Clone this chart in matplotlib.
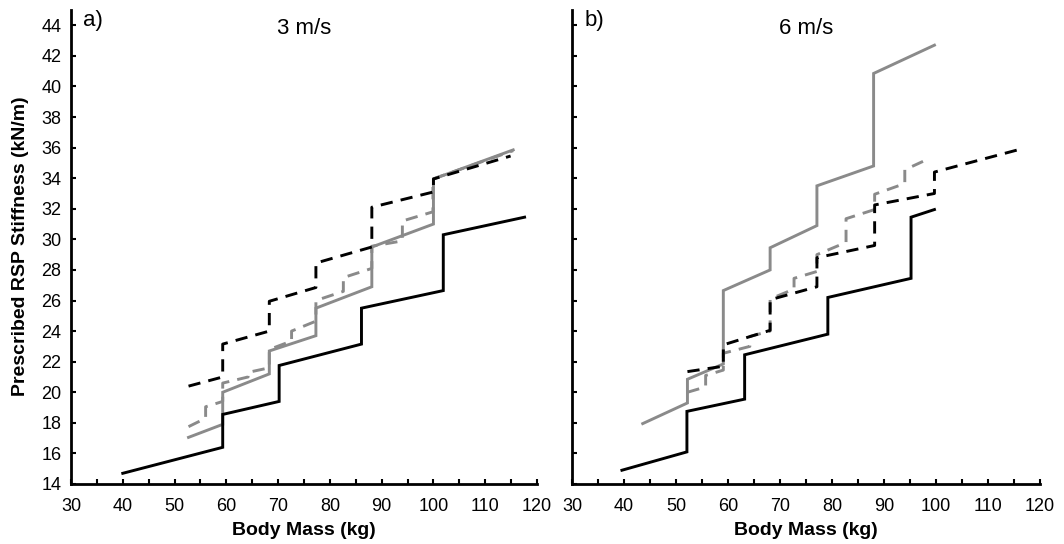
import matplotlib
matplotlib.use("Agg")
import matplotlib.pyplot as plt
from matplotlib.ticker import MultipleLocator

plt.rcParams['font.family'] = ['Liberation Sans', 'DejaVu Sans']

# step curves, vertex lists (body mass kg, stiffness kN/m)
# 3 m/s panel
l_black_x = [40, 59.3, 59.3, 70.2, 70.2, 86.1, 86.1, 101.9, 101.9, 117.6]
l_black_y = [14.7, 16.4, 18.55, 19.4, 21.75, 23.15, 25.5, 26.65, 30.3, 31.45]

l_gray_x = [52.7, 59.3, 59.3, 68.3, 68.3, 77.3, 77.3, 88.1, 88.1, 100.0, 100.0, 115.4]
l_gray_y = [17.05, 17.9, 20.0, 21.2, 22.7, 23.7, 25.5, 26.9, 29.5, 31.0, 33.95, 35.85]

l_bdash_x = [52.7, 59.3, 59.3, 68.3, 68.3, 77.3, 77.3, 88.1, 88.1, 100.0, 100.0, 114.9]
l_bdash_y = [20.4, 21.0, 23.15, 24.0, 25.95, 26.85, 28.45, 29.5, 32.1, 33.1, 33.95, 35.45]

l_gdash_x = [52.7, 56.0, 56.0, 59.3, 59.3, 64.2, 64.2, 68.3, 68.3, 72.6, 72.6,
             77.3, 77.3, 82.6, 82.6, 88.1, 88.1, 94.0, 94.0, 99.9, 99.9, 115.4]
l_gdash_y = [17.75, 18.3, 19.05, 19.4, 20.6, 21.0, 21.3, 21.6, 22.8, 23.35, 24.0,
             24.65, 26.0, 26.6, 27.5, 28.1, 29.55, 29.9, 31.2, 31.8, 33.95, 35.8]

# 6 m/s panel
r_black_x = [39.6, 52.1, 52.1, 63.2, 63.2, 79.2, 79.2, 95.2, 95.2, 99.7]
r_black_y = [14.9, 16.1, 18.75, 19.55, 22.45, 23.8, 26.2, 27.45, 31.45, 31.95]

r_gray_x = [43.6, 52.2, 52.2, 59.1, 59.1, 68.1, 68.1, 77.1, 77.1, 88.0, 88.0, 99.7]
r_gray_y = [17.95, 19.3, 20.85, 21.85, 26.65, 28.0, 29.45, 30.9, 33.5, 34.8, 40.85, 42.7]

r_bdash_x = [52.2, 59.1, 59.1, 68.1, 68.1, 77.1, 77.1, 88.2, 88.2, 99.7, 99.7, 116.8]
r_bdash_y = [21.35, 21.7, 23.1, 24.05, 26.05, 26.9, 28.8, 29.6, 32.25, 33.0, 34.4, 35.95]

r_gdash_x = [52.2, 55.7, 55.7, 59.1, 59.1, 64.2, 64.2, 68.1, 68.1, 72.7,
             72.7, 77.1, 77.1, 82.7, 82.7, 88.2, 88.2, 94.0, 94.0, 97.5]
r_gdash_y = [20.0, 20.35, 21.1, 21.45, 22.55, 23.0, 23.65, 24.0, 26.1, 26.75,
             27.45, 27.9, 29.0, 29.8, 31.35, 31.95, 32.95, 33.65, 34.55, 35.1]

speeds = ["3 m/s", "6 m/s"]
panel_tags = ["a)", "b)"]

GRAY = "#8a8a8a"
LW = 2.1
DASH = (4.2, 2.8)

fig = plt.figure(figsize=(10.64, 5.44), dpi=100)
ax_l = fig.add_axes([71 / 1064, 1 - 484 / 544, 466 / 1064, 474 / 544])
ax_r = fig.add_axes([572 / 1064, 1 - 484 / 544, 468 / 1064, 474 / 544])

panels = [
    (ax_l, (l_black_x, l_black_y), (l_gray_x, l_gray_y), (l_bdash_x, l_bdash_y), (l_gdash_x, l_gdash_y)),
    (ax_r, (r_black_x, r_black_y), (r_gray_x, r_gray_y), (r_bdash_x, r_bdash_y), (r_gdash_x, r_gdash_y)),
]

for i, (ax, blk, gry, bd, gd) in enumerate(panels):
    ax.plot(*gry, color=GRAY, lw=LW, solid_joinstyle='miter')
    ax.plot(*blk, color="black", lw=LW, solid_joinstyle='miter')
    ax.plot(*gd, color=GRAY, lw=LW, dashes=DASH)
    ax.plot(*bd, color="black", lw=LW, dashes=DASH)

    ax.set_xlim(30, 120)
    ax.set_ylim(14, 45)
    ax.xaxis.set_major_locator(MultipleLocator(10))
    ax.xaxis.set_minor_locator(MultipleLocator(5))
    ax.set_yticks(range(14, 45, 2))

    for side in ("top", "right"):
        ax.spines[side].set_visible(False)
    for side in ("left", "bottom"):
        ax.spines[side].set_linewidth(2.0)

    ax.tick_params(axis="both", which="both", direction="in", length=3.5, width=1.5)
    ax.tick_params(axis="x", which="major", labelsize=13, pad=10)
    ax.tick_params(axis="y", which="major", labelsize=13, pad=7)

    ax.set_xlabel("Body Mass (kg)", fontsize=14, fontweight="bold", labelpad=5)
    ax.text(0.5, 0.962, speeds[i], transform=ax.transAxes, fontsize=16,
            ha="center", va="center")
    ax.text(0.026, 0.978, panel_tags[i], transform=ax.transAxes, fontsize=16,
            ha="left", va="center")

ax_r.tick_params(axis="y", labelleft=False)

fig.text(21 / 1064, 1 - 246 / 544, "Prescribed RSP Stiffness (kN/m)", rotation=90,
         fontsize=14, fontweight="bold", ha="center", va="center")

fig.savefig("out.png", dpi=100)
